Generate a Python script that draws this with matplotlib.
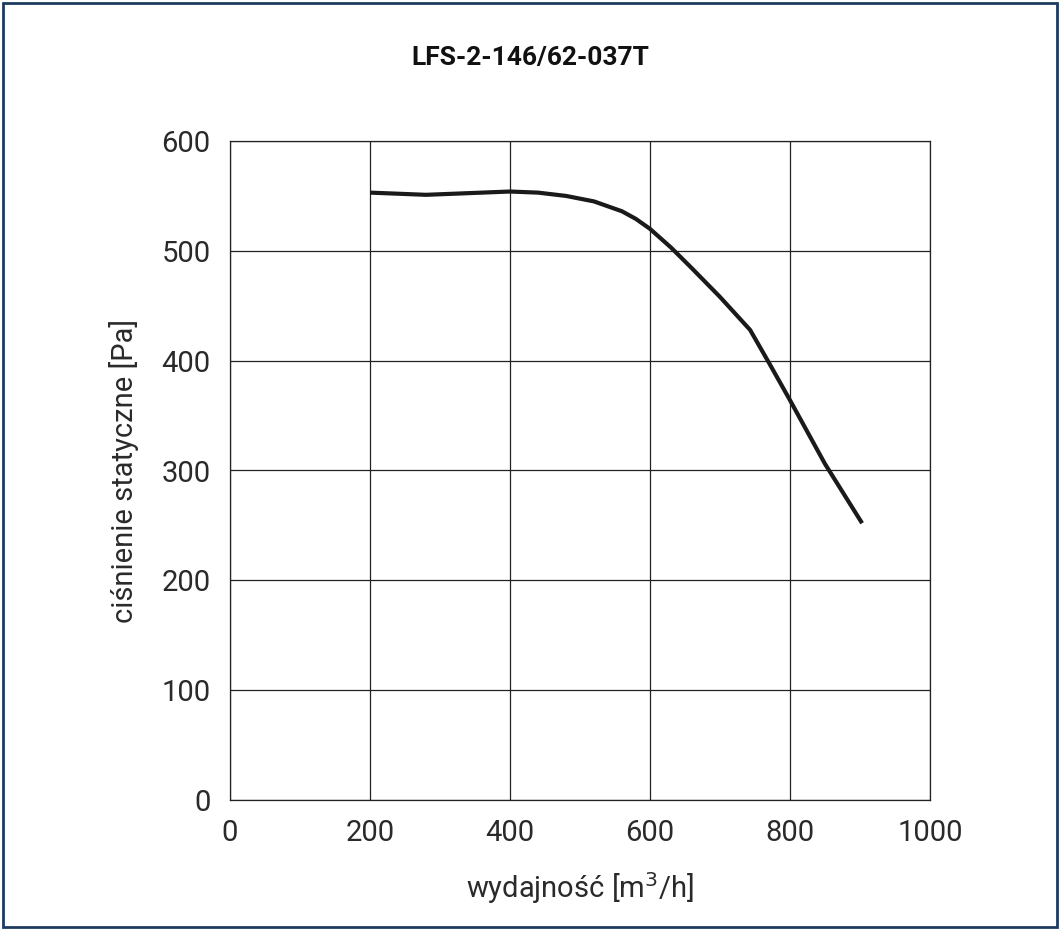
import matplotlib
matplotlib.use("Agg")
import matplotlib.pyplot as plt
from matplotlib.patches import Rectangle

flow = [200, 240, 280, 320, 360, 400, 440, 480, 520, 560, 580, 600, 630, 660, 700, 743, 770, 800, 850, 903]
pressure = [553, 552, 551, 552, 553, 554, 553, 550, 545, 536, 529, 520, 503, 484, 458, 428, 398, 364, 306, 252]
xticks = [0, 200, 400, 600, 800, 1000]
yticks = [0, 100, 200, 300, 400, 500, 600]

plt.rcParams['font.family'] = ['Roboto', 'DejaVu Sans']
fig = plt.figure(figsize=(10.6, 9.3), dpi=100)
ax = fig.add_axes([230/1060, 1-800/930, 700/1060, 659/930])
ax.plot(flow, pressure, color='#1a1a1a', lw=3, solid_capstyle='butt', solid_joinstyle='round')
ax.set_xlim(0, 1000); ax.set_ylim(0, 600)
ax.set_xticks(xticks); ax.set_yticks(yticks)
ax.grid(True, color='#222222', lw=0.9)
for s in ax.spines.values():
    s.set_color('#222222'); s.set_linewidth(0.9)
ax.tick_params(length=0, labelsize=21, colors='#2a2a2a', pad=14)
ax.set_xlabel('wydajność [m$^3$/h]', fontsize=21, color='#2a2a2a', labelpad=16)
ax.set_ylabel('ciśnienie statyczne [Pa]', fontsize=21, color='#2a2a2a', labelpad=16)
fig.text(0.5, 1-58/930, 'LFS-2-146/62-037T', ha='center', va='center', fontsize=19, fontweight='bold', color='#111111')
fig.patches.append(Rectangle((3/1060, 3/930), 1-6/1060, 1-6/930, transform=fig.transFigure,
                             fill=False, edgecolor='#1f3a5f', lw=2))
fig.savefig('out.png', dpi=100)
